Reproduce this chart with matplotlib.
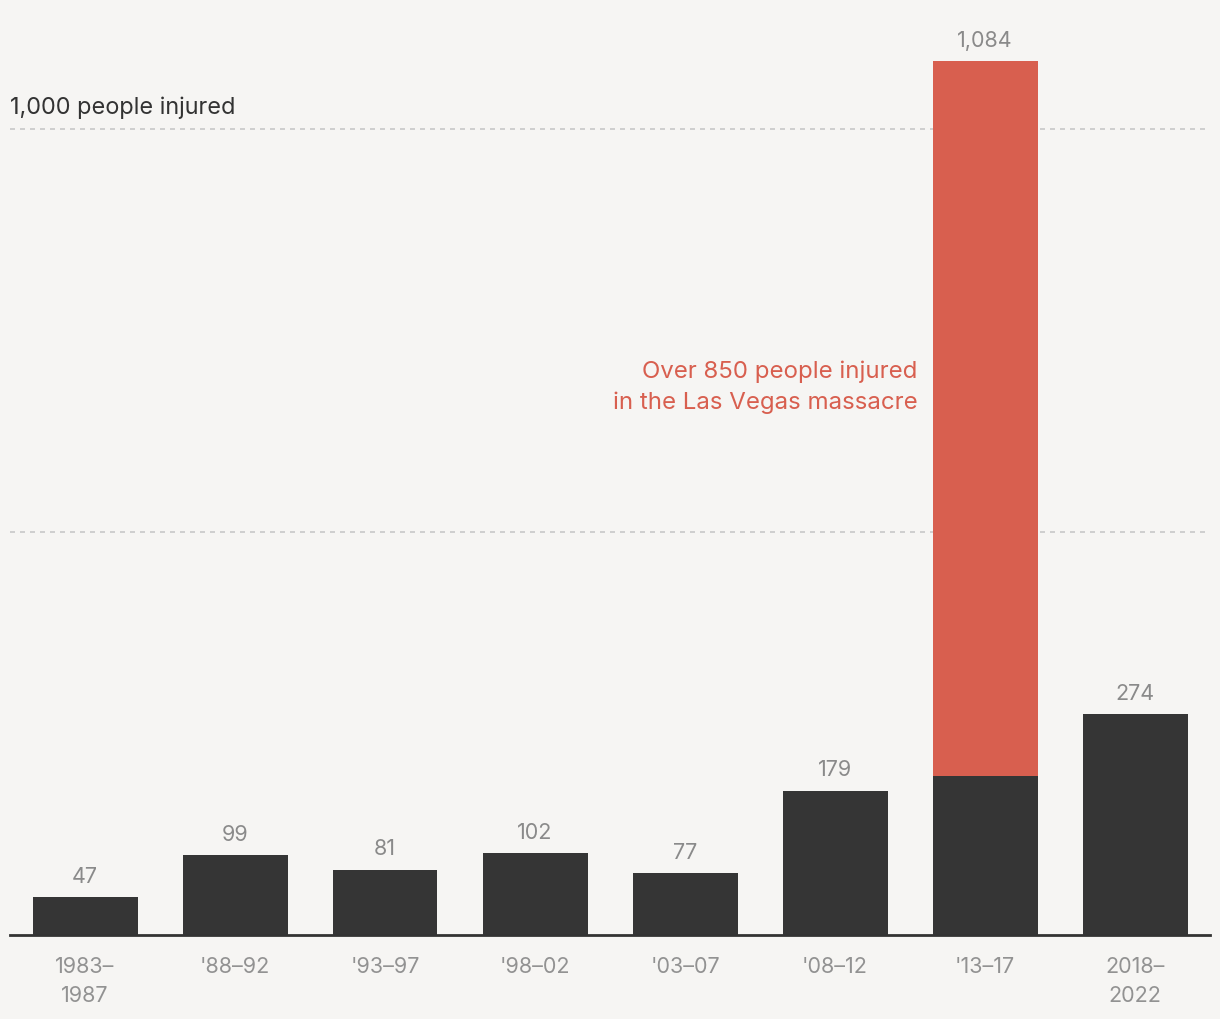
import numpy as np
import matplotlib.pyplot as plt

plt.rcParams['font.family'] = ['Inter', 'DejaVu Sans']

periods = ["1983–\n1987", "'88–92", "'93–97", "'98–02", "'03–07", "'08–12", "'13–17", "2018–\n2022"]
injured = [47, 99, 81, 102, 77, 179, 1084, 274]
# part of the '13-17 total that came from Las Vegas
vegas = [0, 0, 0, 0, 0, 0, 887, 0]

bg = '#f6f5f3'
dark = '#353535'
red = '#d85f4f'

fig = plt.figure(figsize=(12.2, 10.2), dpi=100, facecolor=bg)
ax = fig.add_axes([10/1220, 84/1020, 1200/1220, 936/1020])
ax.set_facecolor(bg)

x = np.arange(len(periods))
base = np.array(injured) - np.array(vegas)
ax.bar(x, base, width=0.7, color=dark, zorder=2)
ax.bar(x, vegas, bottom=base, width=0.7, color=red, zorder=2)

for xi, v in zip(x, injured):
    ax.text(xi, v + 14, f"{v:,}", ha='center', va='bottom', fontsize=15.5, color='#8a8a8a')

for g in [500, 1000]:
    ax.axhline(g, color='#c8c8c8', lw=1.2, ls=(0, (3, 3)), zorder=1)
ax.text(-0.5, 1000 + 14, "1,000 people injured", ha='left', va='bottom', fontsize=16.9, color='#333333')

ax.text(5.55, 681, "Over 850 people injured\nin the Las Vegas massacre", ha='right', va='center',
        fontsize=17.3, color=red, linespacing=1.5)

ax.set_xlim(-0.5, 7.5)
ax.set_ylim(0, 936/0.806)
ax.set_xticks(x)
ax.set_xticklabels(periods, fontsize=15.5, color='#929292', linespacing=1.6)
ax.tick_params(axis='x', length=0, pad=15)
ax.set_yticks([])
for s in ['top', 'right', 'left']:
    ax.spines[s].set_visible(False)
ax.spines['bottom'].set_color('#333333')
ax.spines['bottom'].set_linewidth(2)
ax.spines['bottom'].set_zorder(3)

fig.savefig('out.png', dpi=100, facecolor=bg)
